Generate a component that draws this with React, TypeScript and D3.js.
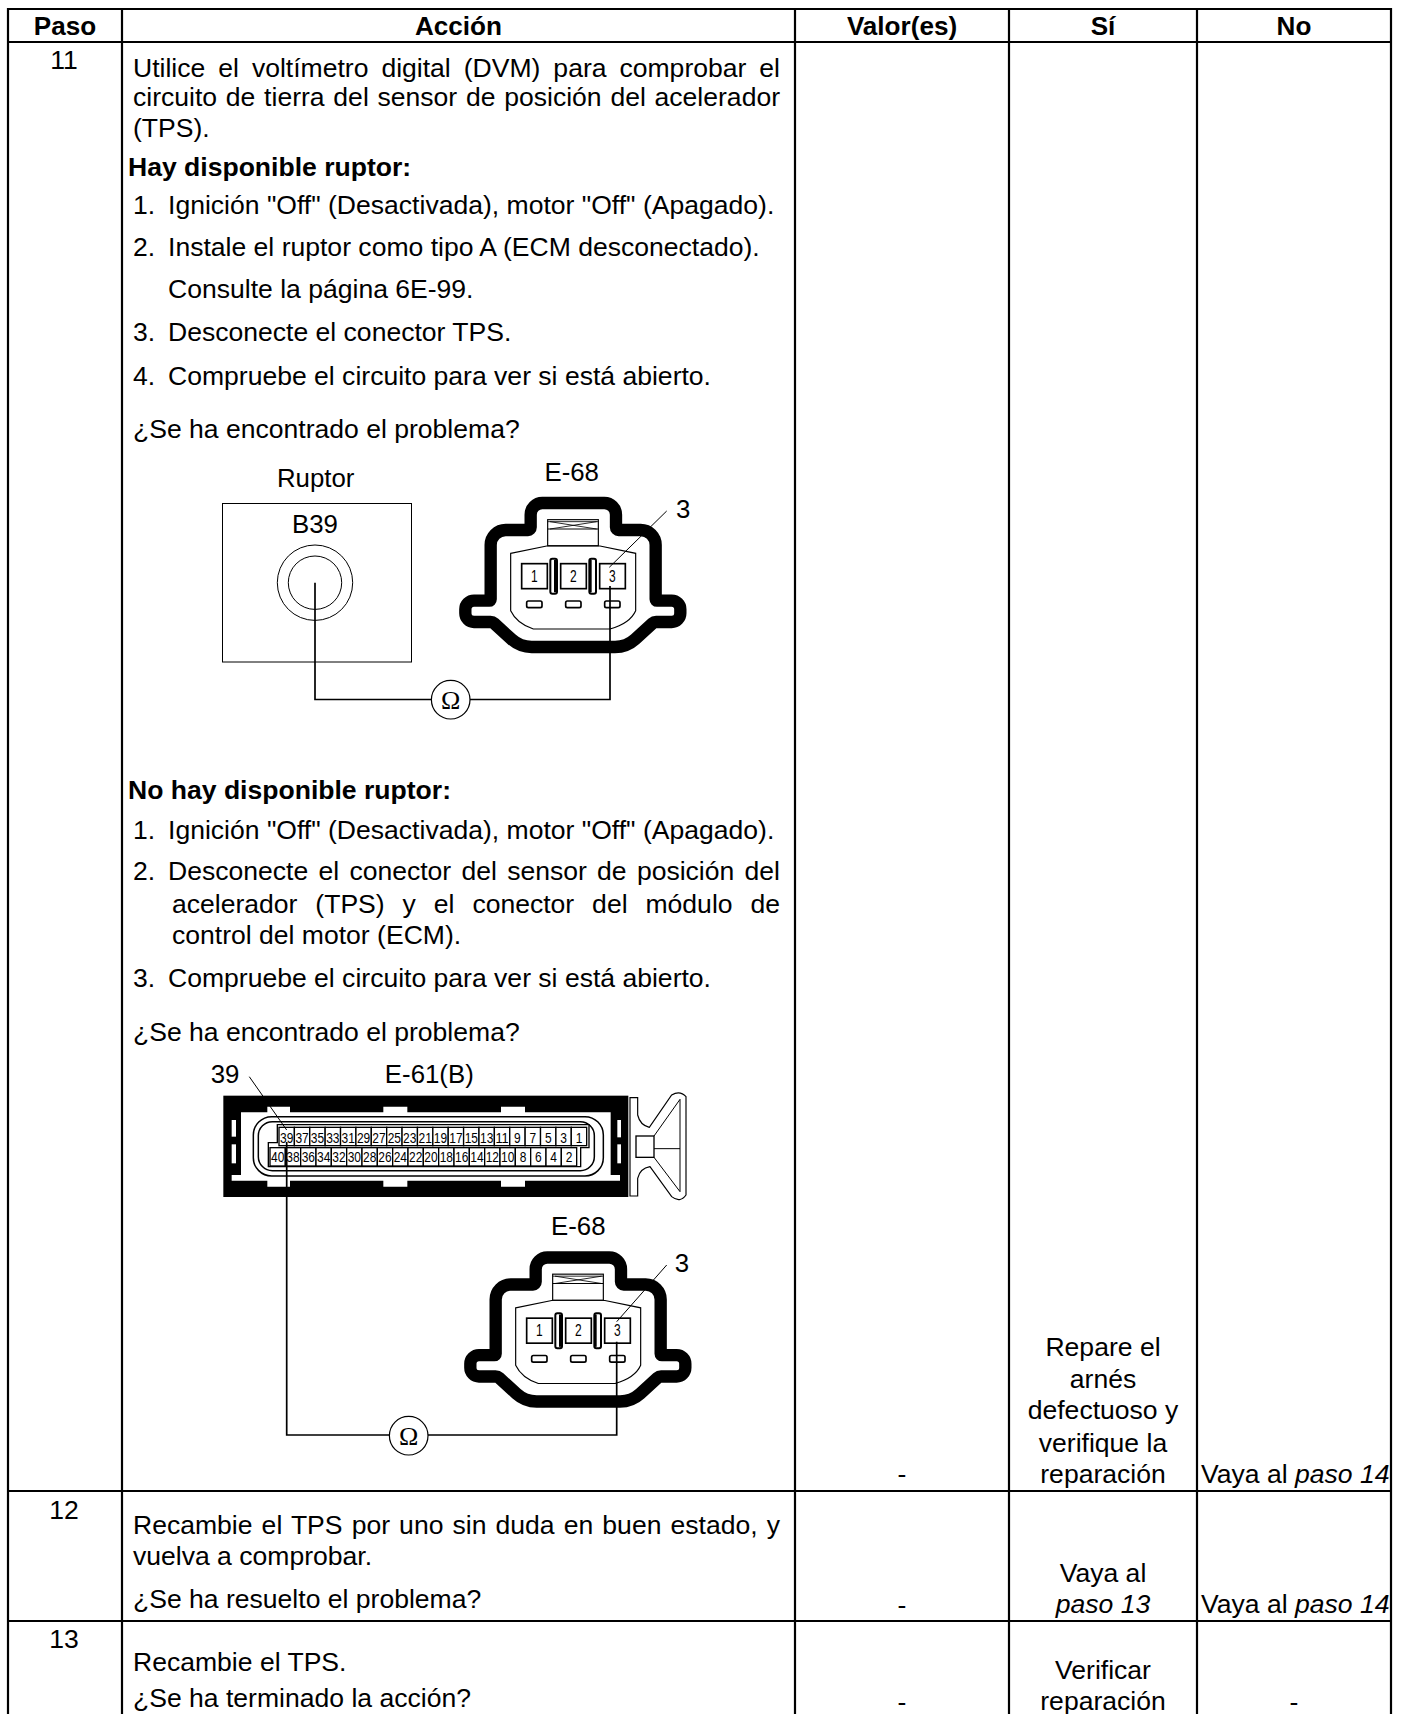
import React, { useEffect, useRef } from 'react';
import * as d3 from 'd3';

const WIDTH = 1407;
const HEIGHT = 1714;
const SANS = '"Liberation Sans", Arial, sans-serif';
const FONT_SIZE = 26.55;
const HEADER_SIZE = 26.1;
const LABEL_SIZE = 25.8;

const headerLabels = ['Paso', 'Acción', 'Valor(es)', 'Sí', 'No'];
const stepLabels = ['11', '12', '13'];
const rowNames = ['top', 'header', 'step11', 'step12', 'step13'];

const actionLines = [
  'Utilice el voltímetro digital (DVM) para comprobar el',
  'circuito de tierra del sensor de posición del acelerador',
  '(TPS).',
  'Hay disponible ruptor:',
  '1.', 'Ignición "Off" (Desactivada), motor "Off" (Apagado).',
  '2.', 'Instale el ruptor como tipo A (ECM desconectado).',
  'Consulte la página 6E-99.',
  '3.', 'Desconecte el conector TPS.',
  '4.', 'Compruebe el circuito para ver si está abierto.',
  '¿Se ha encontrado el problema?',
  'No hay disponible ruptor:',
  '1.', 'Ignición "Off" (Desactivada), motor "Off" (Apagado).',
  '2.', 'Desconecte el conector del sensor de posición del',
  'acelerador (TPS) y el conector del módulo de',
  'control del motor (ECM).',
  '3.', 'Compruebe el circuito para ver si está abierto.',
  '¿Se ha encontrado el problema?',
  'Recambie el TPS por uno sin duda en buen estado, y',
  'vuelva a comprobar.',
  '¿Se ha resuelto el problema?',
  'Recambie el TPS.',
  '¿Se ha terminado la acción?',
];

const siLines = ['Repare el', 'arnés', 'defectuoso y', 'verifique la', 'reparación', 'Vaya al', 'paso 13', 'Verificar', 'reparación'];
const noPrefix = ['Vaya al ', 'Vaya al '];
const noStep = ['paso 14', 'paso 14'];
const valueDashes = ['-', '-', '-'];

const e68Pins = ['1', '2', '3'];
const e61TopPins = ['39', '37', '35', '33', '31', '29', '27', '25', '23', '21', '19', '17', '15', '13', '11', '9', '7', '5', '3', '1'];
const e61BottomPins = ['40', '38', '36', '34', '32', '30', '28', '26', '24', '22', '20', '18', '16', '14', '12', '10', '8', '6', '4', '2'];

// layout, kept apart from the text above
const columnEdges = [8, 122, 795, 1009, 1197, 1391];
const rowEdges = [9, 42, 1491, 1621, 1714];
const X_BODY = 133;
const X_NUM = 133;
const X_ITEM = 168;
const X_WRAP = 172;
const X_RIGHT = 780;
// baseline, x, justified, bold
const actionLayout: [number, number, boolean, boolean][] = [
  [77, X_BODY, true, false],
  [106, X_BODY, true, false],
  [137, X_BODY, false, false],
  [176, 128, false, true],
  [214, X_NUM, false, false], [214, X_ITEM, false, false],
  [256, X_NUM, false, false], [256, X_ITEM, false, false],
  [298, X_ITEM, false, false],
  [341, X_NUM, false, false], [341, X_ITEM, false, false],
  [385, X_NUM, false, false], [385, X_ITEM, false, false],
  [438, X_BODY, false, false],
  [799, 128, false, true],
  [839, X_NUM, false, false], [839, X_ITEM, false, false],
  [880, X_NUM, false, false], [880, X_ITEM, true, false],
  [913, X_WRAP, true, false],
  [944, X_WRAP, false, false],
  [987, X_NUM, false, false], [987, X_ITEM, false, false],
  [1041, X_BODY, false, false],
  [1534, X_BODY, true, false],
  [1565, X_BODY, false, false],
  [1608, X_BODY, false, false],
  [1671, X_BODY, false, false],
  [1707, X_BODY, false, false],
];
const stepBaselines = [69, 1519, 1648];
const siBaselines = [1356, 1388, 1419, 1452, 1483, 1582, 1613, 1679, 1710];
const siItalic = [false, false, false, false, false, false, true, false, false];
const noBaselines = [1483, 1613];
const dashBaselines = [1483, 1614, 1711];

type Corner = [number, number, number];
const e68Outline: Corner[] = [
  [992, 159, 35], [1248, 159, 35], [1248, 240, 8], [1367, 240, 45], [1367, 452, 4],
  [1441, 452, 26], [1441, 516, 26], [1362, 516, 16], [1280, 591, 90], [960, 591, 90],
  [878, 516, 16], [796, 516, 26], [796, 452, 26], [872, 452, 4], [872, 240, 45], [992, 240, 8],
];

function roundedPath(pts: Corner[]) {
  const p = d3.path();
  const n = pts.length;
  p.moveTo((pts[n - 1][0] + pts[0][0]) / 2, (pts[n - 1][1] + pts[0][1]) / 2);
  pts.forEach((c, i) => {
    const next = pts[(i + 1) % n];
    p.arcTo(c[0], c[1], next[0], next[1], c[2]);
  });
  p.closePath();
  return p.toString();
}

type G = d3.Selection<SVGGElement, unknown, null, undefined>;

function drawE68(root: G, x: number, y: number) {
  const g = root.append('g').attr('transform', `translate(${x},${y}) scale(${1 / 3})`);
  g.append('path').attr('d', roundedPath(e68Outline)).attr('fill', 'white').attr('stroke', '#000')
    .attr('stroke-width', 37).attr('stroke-linejoin', 'round');

  const shell = d3.path();
  shell.moveTo(932, 310);
  shell.lineTo(1040, 288);
  shell.lineTo(1200, 288);
  shell.lineTo(1307, 310);
  shell.lineTo(1307, 482);
  shell.quadraticCurveTo(1290, 520, 1230, 537);
  shell.lineTo(1000, 537);
  shell.quadraticCurveTo(950, 520, 932, 482);
  shell.closePath();
  g.append('path').attr('d', shell.toString()).attr('fill', 'none').attr('stroke', '#000').attr('stroke-width', 3.5);

  // latch with the crossed band
  g.append('rect').attr('x', 1043).attr('y', 209).attr('width', 152).attr('height', 78)
    .attr('fill', 'white').attr('stroke', '#000').attr('stroke-width', 3.5);
  g.append('line').attr('x1', 1043).attr('x2', 1195).attr('y1', 215).attr('y2', 215).attr('stroke', '#000').attr('stroke-width', 2.5);
  g.append('line').attr('x1', 1043).attr('x2', 1195).attr('y1', 237).attr('y2', 237).attr('stroke', '#000').attr('stroke-width', 3);
  g.append('line').attr('x1', 1050).attr('x2', 1190).attr('y1', 215).attr('y2', 237).attr('stroke', '#000').attr('stroke-width', 2.5);
  g.append('line').attr('x1', 1050).attr('x2', 1190).attr('y1', 237).attr('y2', 215).attr('stroke', '#000').attr('stroke-width', 2.5);

  const pinX = d3.scaleOrdinal<string, number>().domain(e68Pins).range([1003, 1120, 1237]);
  const pins = g.selectAll('g.pin').data(e68Pins).enter().append('g').attr('class', 'pin');
  pins.append('rect').attr('x', d => pinX(d) - 38).attr('y', 341).attr('width', 77).attr('height', 75)
    .attr('fill', 'white').attr('stroke', '#000').attr('stroke-width', 5);
  pins.append('text').attr('x', d => pinX(d)).attr('y', 395).attr('text-anchor', 'middle')
    .attr('font-family', SANS).attr('font-size', 48).attr('textLength', 20).attr('lengthAdjust', 'spacingAndGlyphs')
    .text(d => d);
  pins.append('rect').attr('x', d => pinX(d) - 23).attr('y', 453).attr('width', 46).attr('height', 20).attr('rx', 5)
    .attr('fill', 'white').attr('stroke', '#000').attr('stroke-width', 5);

  // separators between the pins
  [1061, 1178].forEach((cx, i) => {
    g.append('rect').attr('x', cx - 10).attr('y', 326).attr('width', 20).attr('height', 105).attr('rx', 6)
      .attr('fill', 'white').attr('stroke', '#000').attr('stroke-width', 6);
    g.append('rect').attr('x', i === 0 ? cx + 1 : cx - 10).attr('y', 330).attr('width', i === 0 ? 9 : 7).attr('height', 97)
      .attr('fill', '#000');
  });
}

function drawE61(root: G, x: number, y: number) {
  const g = root.append('g').attr('transform', `translate(${x},${y}) scale(${1 / 3})`);

  // latch on the right end
  const latch = d3.path();
  latch.moveTo(1320, 143);
  latch.lineTo(1343, 143);
  latch.lineTo(1343, 195);
  latch.quadraticCurveTo(1350, 225, 1378, 232);
  latch.lineTo(1445, 135);
  latch.quadraticCurveTo(1470, 120, 1488, 140);
  latch.lineTo(1488, 435);
  latch.quadraticCurveTo(1470, 460, 1445, 440);
  latch.lineTo(1380, 350);
  latch.quadraticCurveTo(1350, 355, 1343, 385);
  latch.lineTo(1343, 438);
  latch.lineTo(1320, 438);
  latch.closePath();
  g.append('path').attr('d', latch.toString()).attr('fill', 'white').attr('stroke', '#000').attr('stroke-width', 3.5);
  g.append('rect').attr('x', 1338).attr('y', 258).attr('width', 54).attr('height', 64)
    .attr('fill', 'white').attr('stroke', '#000').attr('stroke-width', 4);
  const inner = d3.path();
  inner.moveTo(1392, 258);
  inner.lineTo(1470, 148);
  inner.lineTo(1470, 425);
  inner.lineTo(1392, 322);
  inner.moveTo(1392, 296);
  inner.lineTo(1470, 296);
  g.append('path').attr('d', inner.toString()).attr('fill', 'none').attr('stroke', '#000').attr('stroke-width', 3);

  // black body, white cavity
  g.append('rect').attr('x', 100).attr('y', 137).attr('width', 1215).attr('height', 304).attr('fill', '#000');
  const cavity: [number, number][] = [
    [153, 187], [232, 187], [232, 170], [300, 170], [300, 187], [580, 187], [580, 170], [652, 170], [652, 187],
    [933, 187], [933, 170], [1005, 170], [1005, 187], [1262, 187], [1262, 375], [1290, 375], [1290, 392],
    [1005, 392], [1005, 410], [933, 410], [933, 392], [652, 392], [652, 410], [580, 410], [580, 392],
    [300, 392], [300, 410], [232, 410], [232, 392], [125, 392], [125, 375], [153, 375],
  ];
  g.append('path').attr('d', `${d3.line()(cavity)}Z`).attr('fill', 'white');
  [[125, 210, 13, 50], [125, 283, 13, 57], [1282, 210, 11, 52], [1282, 283, 11, 57]].forEach(s => {
    g.append('rect').attr('x', s[0]).attr('y', s[1]).attr('width', s[2]).attr('height', s[3]).attr('fill', 'white');
  });

  // double rim
  g.append('rect').attr('x', 190).attr('y', 200).attr('width', 1050).attr('height', 178).attr('rx', 55)
    .attr('fill', 'none').attr('stroke', '#000').attr('stroke-width', 4.5);
  g.append('rect').attr('x', 205).attr('y', 215).attr('width', 1008).attr('height', 147).attr('rx', 42)
    .attr('fill', 'none').attr('stroke', '#000').attr('stroke-width', 4.5);

  // pin block outline
  const block: [number, number][] = [[262, 224], [1197, 224], [1197, 293], [1172, 293], [1172, 350], [235, 350], [235, 278], [262, 278]];
  g.append('path').attr('d', `${d3.line()(block)}Z`).attr('fill', 'white').attr('stroke', '#000').attr('stroke-width', 4);

  const topX = d3.scaleBand<string>().domain(e61TopPins).range([267, 1190]);
  const bottomX = d3.scaleBand<string>().domain(e61BottomPins).range([240, 1160]);
  const rows: [string[], d3.ScaleBand<string>, number, number][] = [
    [e61TopPins, topX, 232, 278],
    [e61BottomPins, bottomX, 293, 337],
  ];
  rows.forEach(([pins, scale, top, base]) => {
    const cell = g.append('g').selectAll('g').data(pins).enter().append('g');
    cell.append('rect').attr('x', d => scale(d) as number).attr('y', top).attr('width', scale.bandwidth())
      .attr('height', 55).attr('fill', 'white').attr('stroke', '#000').attr('stroke-width', 4);
    cell.append('text').attr('x', d => (scale(d) as number) + scale.bandwidth() / 2).attr('y', base)
      .attr('text-anchor', 'middle').attr('font-family', SANS).attr('font-size', 44)
      .attr('textLength', d => (d.length > 1 ? 40 : 20)).attr('lengthAdjust', 'spacingAndGlyphs').text(d => d);
  });
}

function drawWire(root: G, pts: [number, number][], width: number) {
  root.append('path').attr('d', d3.line()(pts) as string).attr('fill', 'none').attr('stroke', '#000').attr('stroke-width', width);
}

function drawOhm(root: G, cx: number, cy: number) {
  root.append('circle').attr('cx', cx).attr('cy', cy).attr('r', 19.3).attr('fill', 'white').attr('stroke', '#000').attr('stroke-width', 1.2);
  root.append('text').attr('x', cx).attr('y', cy + 9).attr('text-anchor', 'middle')
    .attr('font-family', '"Liberation Serif", serif').attr('font-size', 26).text('Ω');
}

function label(root: G, text: string, x: number, y: number) {
  root.append('text').attr('x', x).attr('y', y).attr('text-anchor', 'middle')
    .attr('font-family', SANS).attr('font-size', LABEL_SIZE).text(text);
}

const App = () => {
  const svgRef = useRef<SVGSVGElement>(null);

  useEffect(() => {
    const svg = d3.select(svgRef.current as SVGSVGElement);
    svg.selectAll('*').remove();
    const root = svg.append('g') as unknown as G;

    const colX = d3.scaleOrdinal<number, number>().domain(d3.range(columnEdges.length)).range(columnEdges);
    const rowY = d3.scaleOrdinal<string, number>().domain(rowNames).range(rowEdges);
    const colMid = (i: number) => (colX(i) + colX(i + 1)) / 2;

    // grid
    root.append('g').selectAll('line').data(columnEdges).enter().append('line')
      .attr('x1', d => d).attr('x2', d => d).attr('y1', rowY('top') - 1).attr('y2', HEIGHT)
      .attr('stroke', '#000').attr('stroke-width', 2.2);
    root.append('g').selectAll('line').data(rowNames.slice(0, 4)).enter().append('line')
      .attr('x1', colX(0) - 1).attr('x2', colX(5) + 1).attr('y1', d => rowY(d)).attr('y2', d => rowY(d))
      .attr('stroke', '#000').attr('stroke-width', 2.2);

    // header
    root.append('g').selectAll('text').data(headerLabels).enter().append('text')
      .attr('x', (_, i) => colMid(i)).attr('y', 35).attr('text-anchor', 'middle')
      .attr('font-family', SANS).attr('font-size', HEADER_SIZE).attr('font-weight', 700).text(d => d);

    root.append('g').selectAll('text').data(stepLabels).enter().append('text')
      .attr('x', colMid(0) - 1).attr('y', (_, i) => stepBaselines[i]).attr('text-anchor', 'middle')
      .attr('font-family', SANS).attr('font-size', FONT_SIZE).text(d => d);

    // action column, justified lines get their word spacing from the measured width
    const action = root.append('g').selectAll<SVGTextElement, string>('text').data(actionLines).enter().append('text')
      .attr('x', (_, i) => actionLayout[i][1]).attr('y', (_, i) => actionLayout[i][0])
      .attr('font-family', SANS).attr('font-size', FONT_SIZE)
      .attr('font-weight', (_, i) => (actionLayout[i][3] ? 700 : 400)).text(d => d);
    action.each(function (d, i) {
      if (!actionLayout[i][2]) return;
      const gaps = d.split(' ').length - 1;
      const extra = (X_RIGHT - actionLayout[i][1] - this.getComputedTextLength()) / gaps;
      d3.select(this).attr('word-spacing', extra);
    });

    root.append('g').selectAll('text').data(valueDashes).enter().append('text')
      .attr('x', colMid(2)).attr('y', (_, i) => dashBaselines[i]).attr('text-anchor', 'middle')
      .attr('font-family', SANS).attr('font-size', FONT_SIZE).text(d => d);

    root.append('g').selectAll('text').data(siLines).enter().append('text')
      .attr('x', colMid(3)).attr('y', (_, i) => siBaselines[i]).attr('text-anchor', 'middle')
      .attr('font-family', SANS).attr('font-size', FONT_SIZE)
      .attr('font-style', (_, i) => (siItalic[i] ? 'italic' : 'normal')).text(d => d);

    const no = root.append('g').selectAll('text').data(noPrefix).enter().append('text')
      .attr('x', colX(4) + 4).attr('y', (_, i) => noBaselines[i])
      .attr('font-family', SANS).attr('font-size', FONT_SIZE).attr('xml:space', 'preserve');
    no.append('tspan').text(d => d);
    no.append('tspan').attr('font-style', 'italic').text((_, i) => noStep[i]);

    root.append('text').attr('x', colMid(4)).attr('y', 1711).attr('text-anchor', 'middle')
      .attr('font-family', SANS).attr('font-size', FONT_SIZE).text('-');

    // first diagram, breaker box and E-68
    root.append('rect').attr('x', 222.5).attr('y', 503.5).attr('width', 189).attr('height', 158.5)
      .attr('fill', 'none').attr('stroke', '#000').attr('stroke-width', 1);
    root.append('circle').attr('cx', 315).attr('cy', 582.7).attr('r', 37.7).attr('fill', 'none').attr('stroke', '#000');
    root.append('circle').attr('cx', 315).attr('cy', 582.7).attr('r', 26.7).attr('fill', 'none').attr('stroke', '#000');
    label(root, 'Ruptor', 315.7, 486.7);
    label(root, 'B39', 315, 533.3);
    label(root, 'E-68', 571.7, 480.7);
    label(root, '3', 683.3, 518.3);
    drawE68(root, 200, 450);
    drawWire(root, [[666.7, 511], [609.3, 567.3]], 1);
    drawWire(root, [[315, 582.7], [315, 699.5], [610, 699.5], [610, 586]], 1.7);
    drawOhm(root, 450.7, 699.7);

    // second diagram, E-61(B) and E-68
    label(root, '39', 225, 1082.7);
    label(root, 'E-61(B)', 429.3, 1083.3);
    label(root, 'E-68', 578.3, 1235);
    label(root, '3', 682, 1271.7);
    drawE61(root, 190, 1050);
    drawE68(root, 205, 1204.5);
    drawWire(root, [[249.3, 1076.7], [286.7, 1130]], 1);
    drawWire(root, [[666.7, 1265], [616.7, 1321.7]], 1);
    drawWire(root, [[286.7, 1142], [286.7, 1435], [616.7, 1435], [616.7, 1341.7]], 1.7);
    drawOhm(root, 408.7, 1435.7);
  }, []);

  return (
    <svg
      ref={svgRef}
      width={WIDTH}
      height={HEIGHT}
      style={{ position: 'absolute', left: 0, top: 0, display: 'block', background: 'white' }}
    />
  );
};

export default App;
